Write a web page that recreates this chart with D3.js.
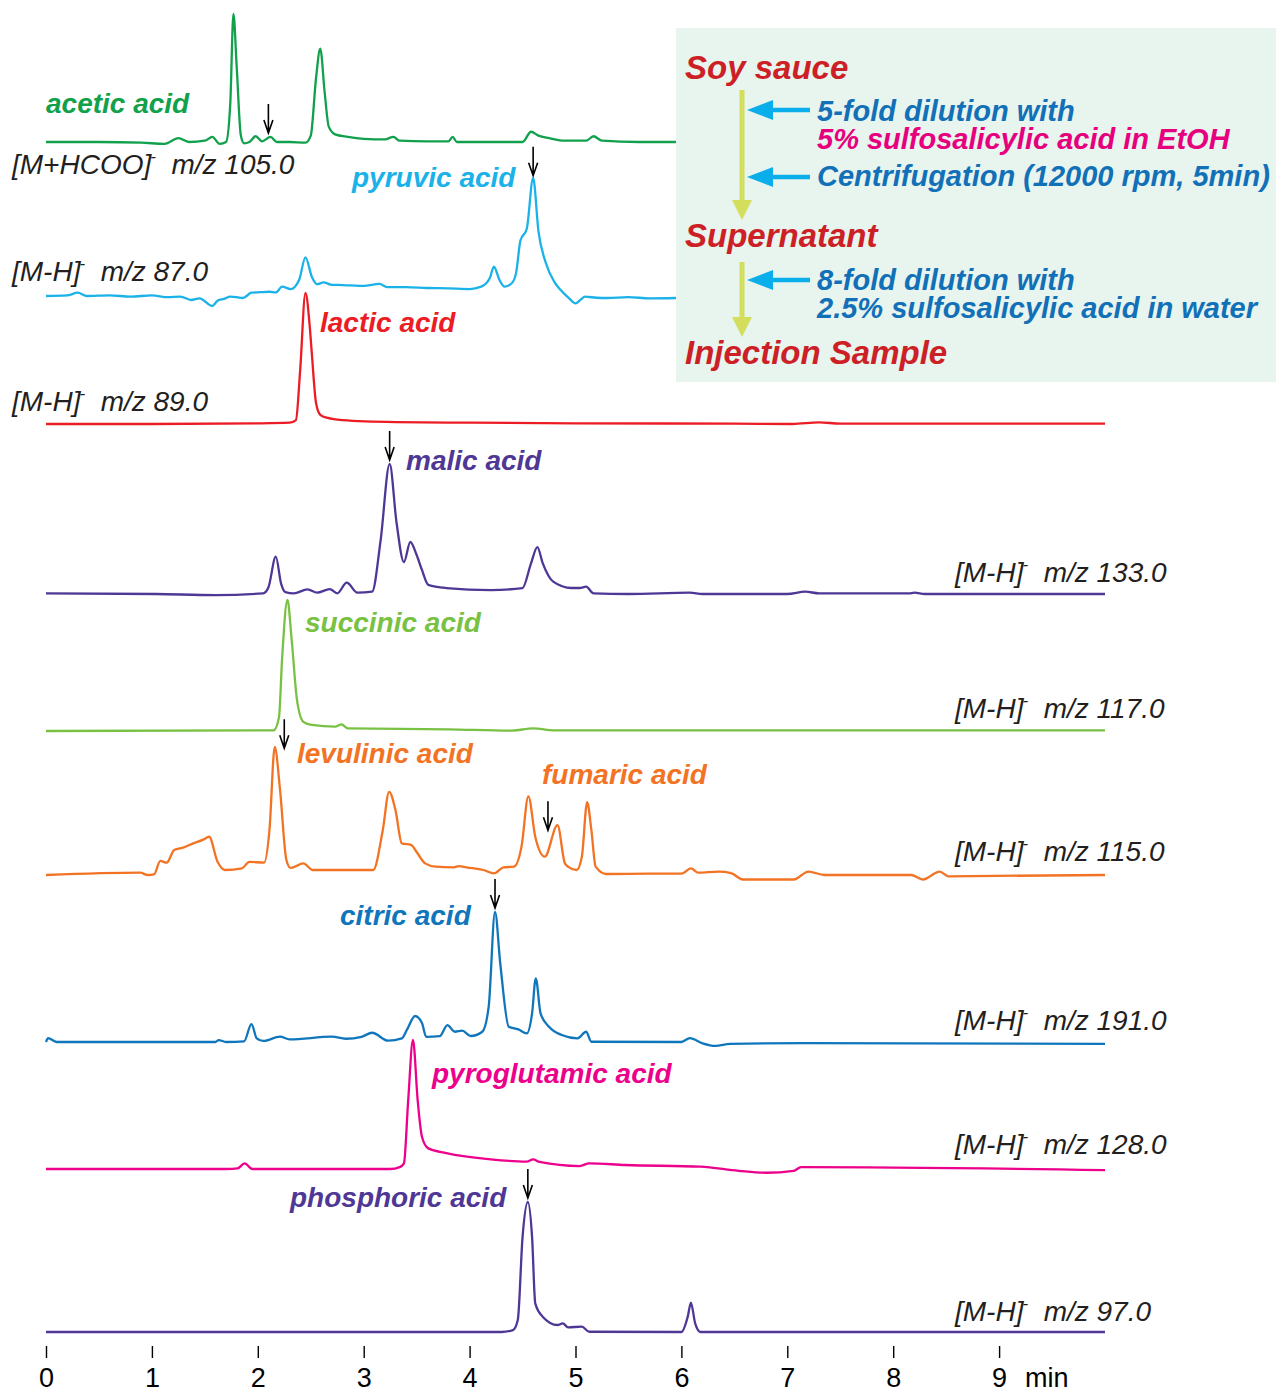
<!doctype html>
<html>
<head>
<meta charset="utf-8">
<title>Organic acids in soy sauce</title>
<script src="https://d3js.org/d3.v7.min.js"></script>
<style>
body { margin: 0; background: #fff; }
svg { display: block; }
</style>
</head>
<body>
<svg width="1276" height="1393"></svg>
<script>
// retention time (min) vs relative intensity (% of main peak)
var tick_values = [0, 1, 2, 3, 4, 5, 6, 7, 8, 9]

var acetic = [[0,0],[0.5,0],[0.9,-0.5],[1.12,-1.5],[1.25,3],[1.35,0],[1.5,1],[1.57,4],[1.64,-1.5],[1.7,0],
    [1.74,30],[1.77,100],[1.8,60],[1.84,5],[1.87,-1],[1.92,0],[1.98,4.5],[2.04,0.5],[2.12,4],[2.18,0],[2.3,0],
    [2.45,-0.5],[2.5,5],[2.55,50],[2.59,73],[2.63,40],[2.67,12],[2.73,6],[2.85,4],[3.0,2.5],[3.2,2],[3.28,4],
    [3.34,1],[3.6,0.5],[3.8,0.5],[3.84,4],[3.88,0],[4.2,0],[4.5,0],[4.58,8],[4.65,5],[4.75,3],[4.9,1],[5.1,1],
    [5.17,4.5],[5.25,1],[5.6,0],[6.0,0]]
var pyruvic = [[0,0],[0.2,0.5],[0.3,2.8],[0.38,0],[0.6,0.5],[0.8,-0.5],[1.0,0.5],[1.15,-1],[1.27,-0.5],[1.37,-3.4],
    [1.45,-2],[1.57,-8.5],[1.62,-4],[1.68,-2.5],[1.74,-0.6],[1.8,-1],[1.86,-1.7],[1.94,2.8],[2.02,3.2],[2.11,3.6],
    [2.17,3],[2.23,7.9],[2.31,5.9],[2.39,13.6],[2.45,32.8],[2.51,16.4],[2.56,10],[2.62,11.5],[2.7,9.5],[2.8,9.3],
    [3.0,8.5],[3.15,10.2],[3.22,7.5],[3.4,7.6],[3.6,6.8],[3.8,6.5],[4.0,5.9],[4.11,7.9],[4.19,15],[4.23,24.8],
    [4.28,14],[4.33,7.9],[4.4,11],[4.44,20],[4.48,47],[4.54,57],[4.6,100],[4.65,55],[4.72,28],[4.8,12],[4.86,5],
    [4.94,-2],[5.0,-6.2],[5.05,-3],[5.09,-0.6],[5.2,-1.5],[5.3,-1.7],[5.5,-1],[5.7,-2],[5.95,-1.7]]
var lactic = [[0,0],[1.0,0],[2.0,0.5],[2.3,1],[2.36,3],[2.4,41],[2.45,100],[2.49,75],[2.51,54],[2.55,16],[2.59,7],
    [2.66,4.6],[2.8,3],[3.3,1.5],[4.0,1],[5.0,0.5],[6.5,0.3],[7.05,0],[7.3,1.2],[7.5,0.3],[10,0.3]]
var malic = [[0,0.5],[1.04,0],[1.6,-0.8],[2.05,0.5],[2.1,5],[2.17,28.7],[2.22,8],[2.26,1.5],[2.34,0.5],[2.47,3.6],
    [2.56,1],[2.68,3.8],[2.75,0.5],[2.84,8.7],[2.94,1],[3.08,1.8],[3.16,41.5],[3.245,100],[3.31,55],[3.38,24.5],
    [3.44,40],[3.5,30],[3.55,18.5],[3.61,7],[3.78,4.6],[4.2,3],[4.5,4.6],[4.58,23.6],[4.64,36],[4.69,23.8],
    [4.79,9.5],[4.96,4.6],[5.04,4.6],[5.1,5.6],[5.17,0.5],[5.5,0],[6.08,1],[6.2,0],[7.0,0],[7.17,1.8],[7.3,0.5],
    [8.15,0.5],[8.2,1],[8.3,0],[10,0]]
var succinic = [[0,0],[2.0,0.5],[2.15,0.5],[2.2,10.5],[2.23,56],[2.28,100],[2.32,69.5],[2.37,23.7],[2.43,7],
    [2.51,4.6],[2.73,3.3],[2.79,5],[2.85,2],[3.8,1.3],[4.4,0.3],[4.6,2],[4.8,0.5],[10,0.5]]
var levulinic = [[0,0],[0.89,1.8],[0.96,0],[1.02,0.5],[1.08,11],[1.14,9.6],[1.21,19.5],[1.3,21.6],[1.39,24.7],
    [1.49,27.8],[1.54,29.9],[1.62,10.3],[1.69,3.9],[1.85,5.2],[1.92,10.3],[2.06,9.6],[2.11,35],[2.16,100],
    [2.21,66.5],[2.27,11.7],[2.31,5.5],[2.43,9.1],[2.52,3.9],[2.9,3.9],[3.09,3.9],[3.18,35],[3.24,65],[3.3,50.7],
    [3.36,24.7],[3.45,23.4],[3.5,18],[3.58,9.1],[3.68,6.5],[3.85,6],[3.9,7],[3.97,6],[4.13,3.9],[4.23,1.3],
    [4.32,6],[4.42,6.5],[4.49,22],[4.555,61.5],[4.62,29.9],[4.71,14.3],[4.83,39],[4.9,9.1],[4.94,6],[5.01,3.9],
    [5.06,14.3],[5.11,57],[5.15,35],[5.19,6.5],[5.29,0.8],[5.7,1],[6.0,1],[6.09,5.2],[6.16,1.8],[6.35,2.6],
    [6.47,1.5],[6.58,-3.5],[6.9,-3.5],[7.06,-3.5],[7.2,2.7],[7.35,0],[8.17,0],[8.28,-3.5],[8.44,2.7],[8.52,-1],[10,0]]
var citric = [[0,0],[0.02,3],[0.1,0],[1.6,0],[1.63,1.5],[1.7,0],[1.87,0.5],[1.94,13.8],[1.99,2.8],[2.05,0.8],
    [2.21,4.1],[2.3,2],[2.7,4.1],[2.83,2.5],[2.98,4],[3.08,7.1],[3.23,1],[3.36,2.8],[3.41,9.7],[3.485,20],
    [3.55,14.6],[3.59,4],[3.72,4.6],[3.79,13],[3.86,7.9],[3.93,8.7],[4.01,4.6],[4.12,7.9],[4.18,27],[4.24,100],
    [4.29,60],[4.37,11.7],[4.46,9.7],[4.54,6.6],[4.59,22],[4.625,49],[4.67,22],[4.75,11.7],[4.87,5.4],[5.02,2.8],
    [5.1,7.9],[5.15,0.2],[6.0,0],[6.08,3],[6.2,-1],[6.32,-3],[6.46,-1.5],[7.16,-0.8],[10,-1.5]]
var pyroglutamic = [[0,0],[1.7,0],[1.81,0.5],[1.875,4.4],[1.95,0],[3.25,0],[3.34,1.5],[3.38,4.4],[3.42,53],
    [3.465,100],[3.51,53],[3.55,25],[3.61,16],[3.78,12.4],[4.2,7.5],[4.54,5.7],[4.6,7.5],[4.66,5.5],[5.04,2.3],
    [5.13,4.4],[5.47,3.1],[6.18,1.8],[6.54,-1.4],[6.8,-2.9],[7.06,-1.4],[7.13,1.5],[10,-0.8]]
var phosphoric = [[0,0],[4.3,0],[4.41,1.5],[4.455,9.2],[4.5,73],[4.55,100],[4.59,73],[4.62,22],[4.69,11.8],
    [4.83,5.4],[4.88,6.6],[4.93,3.6],[5.06,4.1],[5.13,0.2],[6.0,0],[6.06,11.8],[6.09,22.5],[6.13,6.6],[6.18,0],[10,0]]

var traces = [acetic, pyruvic, lactic, malic, succinic, levulinic, citric, pyroglutamic, phosphoric]
var ion_names = ["[M+HCOO]", "[M-H]", "[M-H]", "[M-H]", "[M-H]", "[M-H]", "[M-H]", "[M-H]", "[M-H]"]
var mz_values = ["105.0", "87.0", "89.0", "133.0", "117.0", "115.0", "191.0", "128.0", "97.0"]
var compound_names = ["acetic acid", "pyruvic acid", "lactic acid", "malic acid", "succinic acid",
    "levulinic acid", "fumaric acid", "citric acid", "pyroglutamic acid", "phosphoric acid"]
// [trace index, time, tip level in % of that trace]
var arrow_marks = [[0, 2.1, 7], [1, 4.6, 102], [3, 3.245, 103], [5, 2.25, 99], [5, 4.74, 35], [6, 4.24, 103], [8, 4.55, 103]]

// layout
var font = "'Liberation Sans', Arial, Helvetica, sans-serif"
var svg = d3.select("svg")
var x = d3.scaleLinear().domain([0, 10]).range([46, 1105])

var trace_layout = [
    {base: 142, height: 128, color: "#11a14c", mz_x: 12, mz_y: 174},
    {base: 296, height: 118, color: "#1ab2e8", mz_x: 12, mz_y: 281},
    {base: 424, height: 131, color: "#ec1c24", mz_x: 12, mz_y: 411},
    {base: 594, height: 130, color: "#4f3795", mz_x: 955, mz_y: 582},
    {base: 731, height: 131, color: "#79c143", mz_x: 955, mz_y: 718},
    {base: 875, height: 128, color: "#f27324", mz_x: 955, mz_y: 861},
    {base: 1042, height: 130, color: "#0f76bc", mz_x: 955, mz_y: 1030},
    {base: 1169, height: 129, color: "#ec008c", mz_x: 955, mz_y: 1154},
    {base: 1332, height: 130, color: "#4f3795", mz_x: 955, mz_y: 1321},
]
var label_layout = [
    [46, 113, "#11a14c"], [352, 187, "#1ab2e8"], [320, 332, "#ec1c24"], [406, 470, "#4f3795"],
    [305, 632, "#79c143"], [297, 763, "#f27324"], [542, 784, "#f27324"], [340, 925, "#0f76bc"],
    [432, 1083, "#ec008c"], [290, 1207, "#4f3795"],
]

function y_of(i) {
    var t = trace_layout[i]
    return d3.scaleLinear().domain([0, 100]).range([t.base, t.base - t.height])
}

// chromatograms
traces.forEach(function (data, i) {
    var y = y_of(i)
    svg.append("path")
        .datum(data)
        .attr("fill", "none")
        .attr("stroke", trace_layout[i].color)
        .attr("stroke-width", 2.3)
        .attr("stroke-linejoin", "round")
        .attr("d", d3.line().x(function (d) { return x(d[0]) }).y(function (d) { return y(d[1]) }).curve(d3.curveMonotoneX))
})

// flow chart box (drawn over the right part of the top two traces)
var fc = svg.append("g")
fc.append("rect").attr("x", 676).attr("y", 28).attr("width", 600).attr("height", 354).attr("fill", "#e8f4ee")

function fc_text(x0, y0, size, color, txt) {
    fc.append("text").attr("x", x0).attr("y", y0)
        .attr("font-family", font).attr("font-size", size).attr("font-weight", "bold").attr("font-style", "italic")
        .attr("fill", color).text(txt)
}
function down_arrow(xc, y1, y2) {
    fc.append("line").attr("x1", xc).attr("y1", y1).attr("x2", xc).attr("y2", y2 - 18)
        .attr("stroke", "#d3de5c").attr("stroke-width", 5)
    fc.append("path").attr("d", "M" + (xc - 10) + "," + (y2 - 20) + "L" + (xc + 10) + "," + (y2 - 20) + "L" + xc + "," + y2 + "Z")
        .attr("fill", "#d3de5c")
}
function left_arrow(x1, x2, yc) {
    fc.append("line").attr("x1", x1).attr("y1", yc).attr("x2", x2 + 24).attr("y2", yc)
        .attr("stroke", "#0aaeea").attr("stroke-width", 4.5)
    fc.append("path").attr("d", "M" + x2 + "," + yc + "L" + (x2 + 26) + "," + (yc - 10) + "L" + (x2 + 26) + "," + (yc + 10) + "Z")
        .attr("fill", "#0aaeea")
}
var dark_red = "#cc1f26", step_blue = "#1170b7", magenta = "#e6007e"
fc_text(685, 79, 33, dark_red, "Soy sauce")
down_arrow(742, 90, 220)
left_arrow(810, 747, 110)
fc_text(817, 121, 29, step_blue, "5-fold dilution with")
fc_text(817, 149, 29, magenta, "5% sulfosalicylic acid in EtOH")
left_arrow(810, 747, 177)
fc_text(817, 186, 29, step_blue, "Centrifugation (12000 rpm, 5min)")
fc_text(685, 247, 33, dark_red, "Supernatant")
down_arrow(742, 262, 337)
left_arrow(810, 747, 280)
fc_text(817, 290, 29, step_blue, "8-fold dilution with")
fc_text(817, 318, 29, step_blue, "2.5% sulfosalicylic acid in water")
fc_text(685, 364, 33, dark_red, "Injection Sample")

// compound names
svg.selectAll(".cname")
    .data(compound_names)
    .enter().append("text")
    .attr("class", "cname")
    .attr("x", function (d, i) { return label_layout[i][0] })
    .attr("y", function (d, i) { return label_layout[i][1] })
    .attr("fill", function (d, i) { return label_layout[i][2] })
    .attr("font-family", font).attr("font-size", 28).attr("font-weight", "bold").attr("font-style", "italic")
    .text(function (d) { return d })

// ion / m/z labels
traces.forEach(function (data, i) {
    var t = svg.append("text")
        .attr("x", trace_layout[i].mz_x).attr("y", trace_layout[i].mz_y)
        .attr("font-family", font).attr("font-size", 28).attr("font-style", "italic").attr("fill", "#231f20")
    t.append("tspan").text(ion_names[i])
    t.append("tspan").attr("dy", -12).attr("dx", -1).attr("font-size", 17).text("-")
    t.append("tspan").attr("dy", 12).attr("xml:space", "preserve").text("  m/z " + mz_values[i])
})

// peak arrows
arrow_marks.forEach(function (a) {
    var xa = x(a[1])
    var tip = y_of(a[0])(a[2])
    var p = "M" + xa + "," + (tip - 29) + "L" + xa + "," + tip +
        "M" + (xa - 4.5) + "," + (tip - 13) + "L" + xa + "," + tip + "L" + (xa + 4.5) + "," + (tip - 13)
    svg.append("path").attr("d", p).attr("fill", "none").attr("stroke", "#000").attr("stroke-width", 1.6)
})

// time axis: ticks and labels only
var axis_g = svg.append("g")
    .attr("transform", "translate(0,1346)")
    .call(d3.axisBottom(x).tickValues(tick_values).tickSize(12).tickFormat(d3.format("d")))
axis_g.select(".domain").remove()
axis_g.selectAll(".tick line").attr("stroke", "#000").attr("stroke-width", 1.4)
axis_g.selectAll(".tick text")
    .attr("y", 41).attr("dy", 0)
    .attr("font-family", font).attr("font-size", 27).attr("fill", "#000")
svg.append("text")
    .attr("x", 1025).attr("y", 1387)
    .attr("font-family", font).attr("font-size", 27).attr("fill", "#000")
    .text("min")
</script>
</body>
</html>
